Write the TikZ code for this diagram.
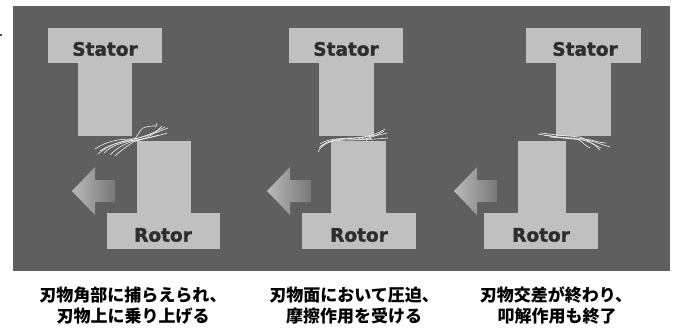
\documentclass[tikz,border=0pt]{standalone}
\usepackage{fontspec}
\newfontfamily\lblfont{DejaVu Sans}[BoldFeatures={FakeBold=1.6}]
\newfontfamily\jpfont{Noto Sans CJK JP}
\definecolor{bggray}{HTML}{5F5F5F}
\definecolor{partgray}{HTML}{C0C0C0}
\definecolor{labelink}{HTML}{2E2E2E}
\definecolor{fiberwhite}{HTML}{EEEEEE}
\tikzset{
  part/.style={fill=partgray, draw=none},
  partlabel/.style={font=\lblfont\bfseries\fontsize{18.5}{20}\selectfont, text=labelink, inner sep=0pt},
  caption/.style={font=\jpfont\bfseries\fontsize{17}{20}\selectfont, text=black, inner sep=0pt, align=center},
  fiber/.style={draw=fiberwhite, line width=0.6pt},
  moveshade/.style={left color=partgray!110, right color=bggray!85!white, draw=none},
}
\begin{document}
\begin{tikzpicture}[x=1pt,y=-1pt]
\useasboundingbox (0,0) rectangle (675,327);
\fill[white] (0,0) rectangle (675,327);
\fill[black!70] (0,34) rectangle (2,36);
% backdrop
\fill[bggray] (13,6) rectangle (670,271);

% ---------- panel 1: caught at the blade corner ----------
\fill[part] (48,28) rectangle (162,63);
\fill[part] (78,63) rectangle (132,136);
\fill[part] (137,141) rectangle (191,213);
\fill[part] (107,213) rectangle (220,249);
\node[partlabel] (s1) at (105,49) {Stator};
\node[partlabel] (r1) at (163,235) {Rotor};
\shade[moveshade] (72,191) -- (95,167) -- (95,180) -- (115,180) -- (115,202) -- (95,202) -- (95,215) -- cycle;
\draw[fiber] (95,149) .. controls (108,140) and (122,139) .. (133,139) .. controls (145,137) and (155,132) .. (165,127);
\draw[fiber] (98,154) .. controls (110,144) and (122,141) .. (134,139) .. controls (148,136) and (158,132) .. (168,128);
\draw[fiber] (104,153) .. controls (112,145) and (124,142) .. (135,140) .. controls (148,138) and (158,136) .. (167,133);
\draw[fiber] (110,155) .. controls (118,147) and (126,143) .. (134,141) .. controls (145,139) and (152,137) .. (159,135);
\draw[fiber] (115,156) .. controls (121,150) and (128,146) .. (133,142) .. controls (146,139) and (155,134) .. (162,126);
\draw[fiber] (100,151) .. controls (112,143) and (125,141) .. (134,140) .. controls (138,135) and (140,130) .. (143,128) .. controls (148,126) and (152,126) .. (155,126) .. controls (156,128) and (156,126) .. (157,123);

% ---------- panel 2: pressed between the blade faces ----------
\fill[part] (289,28) rectangle (403,63);
\fill[part] (319,63) rectangle (374,136);
\fill[part] (331,141) rectangle (386,213);
\fill[part] (302,213) rectangle (416,249);
\node[partlabel] (s2) at (346,49) {Stator};
\node[partlabel] (r2) at (359,235) {Rotor};
\shade[moveshade] (267,191) -- (290,167) -- (290,180) -- (311,180) -- (311,202) -- (290,202) -- (290,215) -- cycle;
\draw[fiber] (318,152) .. controls (322,144) and (330,140) .. (345,139) .. controls (360,138) and (375,136) .. (385,129);
\draw[fiber] (319,148) .. controls (325,142) and (333,139) .. (348,138) .. controls (362,138) and (376,136) .. (387,133);
\draw[fiber] (320,144) .. controls (326,140) and (335,138) .. (350,139) .. controls (364,140) and (377,139) .. (388,138);
\draw[fiber] (321,146) .. controls (328,141) and (338,140) .. (352,140) .. controls (365,140) and (375,137) .. (384,131);
\draw[fiber] (358,140) .. controls (360,137) and (362,137) .. (364,140);
\draw[fiber] (366,141) .. controls (368,137) and (370,137) .. (372,140);

% ---------- panel 3: blades past each other ----------
\fill[part] (526,28) rectangle (641,63);
\fill[part] (556,63) rectangle (611,136);
\fill[part] (518,141) rectangle (566,213);
\fill[part] (484,213) rectangle (598,249);
\node[partlabel] (s3) at (585,49) {Stator};
\node[partlabel] (r3) at (541,235) {Rotor};
\shade[moveshade] (454,191) -- (477,167) -- (477,180) -- (497,180) -- (497,202) -- (477,202) -- (477,215) -- cycle;
\draw[fiber] (538,134) .. controls (552,137) and (566,138) .. (578,138) .. controls (590,140) and (600,144) .. (610,147);
\draw[fiber] (541,133) .. controls (555,135) and (568,136) .. (580,137) .. controls (590,141) and (596,146) .. (600,150);
\draw[fiber] (545,135) .. controls (558,137) and (570,139) .. (582,140) .. controls (592,142) and (598,147) .. (601,148);
\draw[fiber] (550,137) .. controls (562,138) and (574,139) .. (584,139) .. controls (594,140) and (600,143) .. (606,143);
\draw[fiber] (578,139) .. controls (582,142) and (586,146) .. (590,148);

% ---------- captions ----------
\node[caption] (c1a) at (133,295) {刃物角部に捕らえられ、};
\node[caption] (c1b) at (133,316) {刃物上に乗り上げる};
\node[caption] (c2a) at (354,295) {刃物面において圧迫、};
\node[caption] (c2b) at (354,316) {摩擦作用を受ける};
\node[caption] (c3a) at (556,295) {刃物交差が終わり、};
\node[caption] (c3b) at (557,316) {叩解作用も終了};
\end{tikzpicture}
\end{document}
